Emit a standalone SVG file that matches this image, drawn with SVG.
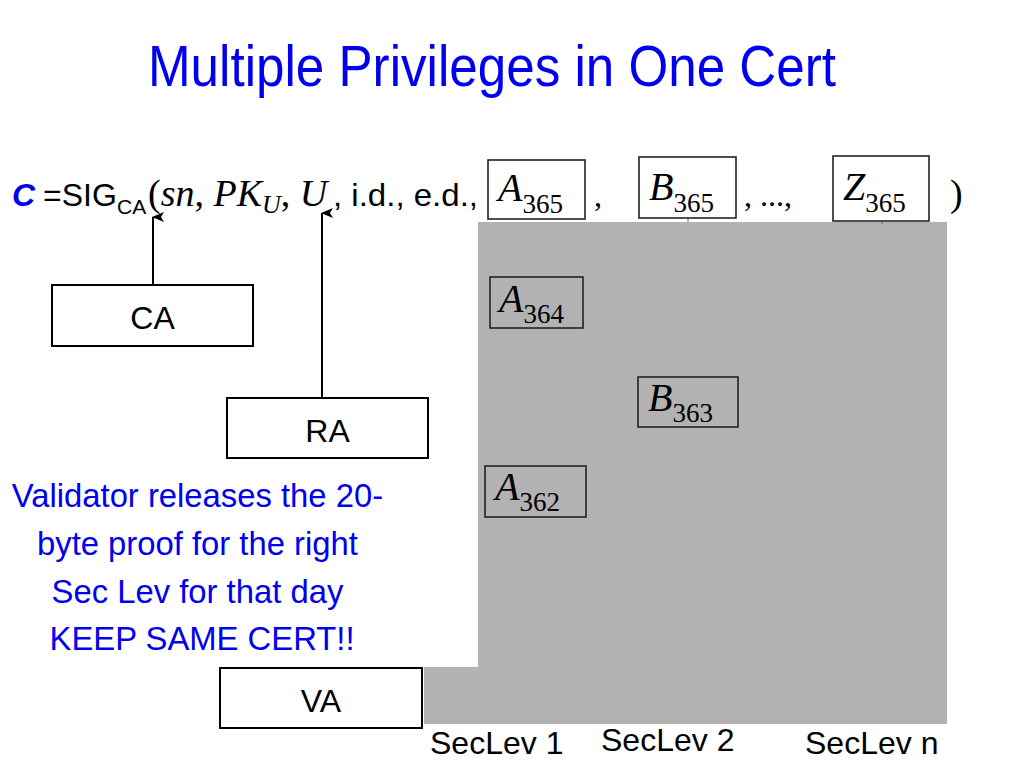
<svg xmlns="http://www.w3.org/2000/svg" width="1024" height="768" viewBox="0 0 1024 768">
<defs>
<style>
.sans{font-family:"Liberation Sans",Arial,sans-serif;fill:#000}
.serif{font-family:"Liberation Serif","Times New Roman",serif;fill:#000}
.it{font-style:italic}
.blue{fill:#0000EE}
.box{fill:#fff;stroke:#000;stroke-width:2}
.pbox{fill:none;stroke:#222;stroke-width:1.6}
.conn{stroke:#000;stroke-width:2;fill:none}
</style>
<marker id="ah" viewBox="0 0 10 12" refX="5" refY="1" markerWidth="10" markerHeight="12" markerUnits="userSpaceOnUse" orient="auto-start-reverse">
<path d="M0,12 L5,0 L10,12 L5,9 Z" fill="#000"/>
</marker>
</defs>
<rect width="1024" height="768" fill="#fff"/>
<text class="sans blue" x="148" y="86" font-size="58" textLength="688" lengthAdjust="spacingAndGlyphs">Multiple Privileges in One Cert</text>

<g id="gray-area">
<path d="M478,222 H947 V724 H424 V667 H478 Z" fill="#B2B2B2"/>
</g>

<g id="formula">
<text class="sans blue" x="12" y="206" font-size="32" font-weight="bold" font-style="italic">C</text>
<text class="sans" x="43" y="206" font-size="32">=SIG</text>
<text class="sans" x="117" y="214" font-size="21">CA</text>
<text class="serif" x="148" y="206" font-size="38">(<tspan class="it">sn</tspan>, <tspan class="it">PK</tspan><tspan class="it" font-size="26" dy="7">U</tspan><tspan dy="-7">, </tspan><tspan class="it">U</tspan></text>
<text class="sans" x="333" y="206" font-size="32" textLength="145" lengthAdjust="spacingAndGlyphs">, i.d., e.d.,</text>
<text class="serif" x="594" y="206" font-size="32">,</text>
<text class="serif" x="744" y="206" font-size="32">, ...,</text>
<text class="serif" x="950" y="206" font-size="38">)</text>
</g>

<g id="A365">
<rect class="pbox" x="488" y="160" width="97" height="59" fill="#fff"/>
<text class="serif" x="498" y="201"><tspan class="it" font-size="40">A</tspan><tspan font-size="27" dy="12">365</tspan></text>
</g>
<g id="B365">
<rect class="pbox" x="639" y="157" width="97" height="61" fill="#fff"/>
<text class="serif" x="649" y="200"><tspan class="it" font-size="40">B</tspan><tspan font-size="27" dy="12">365</tspan></text>
</g>
<g id="Z365">
<rect class="pbox" x="833" y="156" width="96" height="65" fill="#fff"/>
<text class="serif" x="843" y="200"><tspan class="it" font-size="40">Z</tspan><tspan font-size="27" dy="12">365</tspan></text>
</g>
<g id="A364">
<rect class="pbox" x="490" y="277" width="93" height="51"/>
<text class="serif" x="499" y="312"><tspan class="it" font-size="40">A</tspan><tspan font-size="27" dy="11">364</tspan></text>
</g>
<g id="B363">
<rect class="pbox" x="638" y="377" width="100" height="50"/>
<text class="serif" x="648" y="411"><tspan class="it" font-size="40">B</tspan><tspan font-size="27" dy="11">363</tspan></text>
</g>
<g id="A362">
<rect class="pbox" x="485" y="466" width="101" height="51"/>
<text class="serif" x="495" y="500"><tspan class="it" font-size="40">A</tspan><tspan font-size="27" dy="11">362</tspan></text>
</g>

<g id="CA">
<rect class="box" x="52" y="285" width="201" height="61"/>
<text class="sans" x="152.5" y="329" font-size="32" text-anchor="middle">CA</text>
</g>
<g id="RA">
<rect class="box" x="227" y="398" width="201" height="60"/>
<text class="sans" x="327.5" y="442" font-size="32" text-anchor="middle">RA</text>
</g>
<g id="VA">
<rect class="box" x="220" y="668" width="202" height="60"/>
<text class="sans" x="321" y="712" font-size="32" text-anchor="middle">VA</text>
</g>

<g id="note">
<text class="sans blue" font-size="32.8" text-anchor="middle">
<tspan x="202" y="507">Validator releases the 20-</tspan>
<tspan x="202" y="555">byte proof for the right</tspan>
<tspan x="202" y="603">Sec Lev for that day</tspan>
<tspan x="202" y="650">KEEP SAME CERT!!</tspan>
</text>
</g>

<g id="labels">
<text class="sans" x="430" y="754" font-size="32">SecLev 1</text>
<text class="sans" x="601" y="751" font-size="32">SecLev 2</text>
<text class="sans" x="805" y="754" font-size="32">SecLev n</text>
</g>

<g id="connectors">
<line class="conn" x1="153" y1="284" x2="153" y2="217" marker-end="url(#ah)"/>
<line class="conn" x1="322" y1="398" x2="322" y2="213" marker-end="url(#ah)"/>
<line x1="688" y1="219" x2="688" y2="222" stroke="#666" stroke-width="1"/>
<line x1="882" y1="222" x2="882" y2="224" stroke="#666" stroke-width="1"/>
</g>
</svg>
